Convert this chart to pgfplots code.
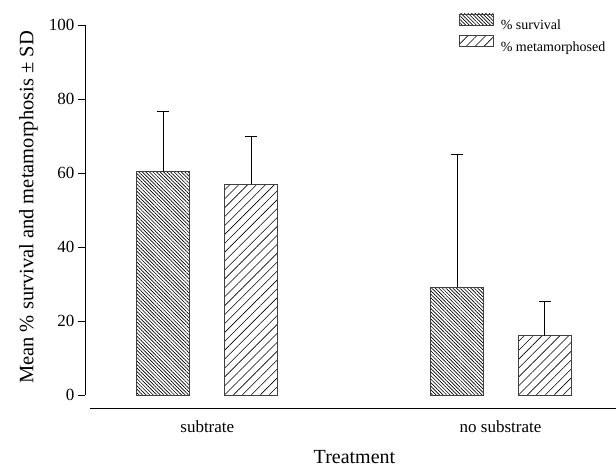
\documentclass[border=0pt]{standalone}
\usepackage{fontspec}
\setmainfont{Liberation Serif}
\usepackage{pgfplots}
\pgfplotsset{compat=1.18}
\usetikzlibrary{patterns.meta}
\pgfplotsset{boxlegend/.style={legend image code/.code={\draw[##1, line width=0.6pt] (0pt,1pt) rectangle (34pt,12pt);}}}
\begin{document}
\begin{tikzpicture}
\path[use as bounding box] (-85pt,-60pt) rectangle (531pt,408pt);
\begin{axis}[
 at={(0,0)}, anchor=south west,
 scale only axis, width=531pt, height=383pt,
 xmin=0, xmax=531, ymin=-3.51, ymax=100,
 axis lines*=left, axis line style={draw=none},
 clip=false,
 tick align=outside,
 ytick={0,20,40,60,80,100},
 xtick={122.3,415.5}, xticklabels={subtrate, no substrate},
 x tick style={draw=none}, major tick length=7pt,
 y tick style={black, line width=0.8pt},
 xticklabel style={anchor=base, yshift=-18pt, font=\fontsize{17}{20}\selectfont},
 yticklabel style={font=\fontsize{17}{20}\selectfont},
 /pgf/number format/assume math mode=true,
 xlabel={Treatment},
 ylabel={Mean \% survival and metamorphosis ± SD},
 xlabel style={at={(axis description cs:0.5075,-0.1446)}, anchor=base, font=\fontsize{20}{24}\selectfont},
 ylabel style={at={(axis description cs:-0.0974,0.5235)}, anchor=base, font=\fontsize{20.5}{24}\selectfont},
 legend style={at={(axis description cs:0.7043,1.0305)}, anchor=north west, draw=none, fill=none, inner sep=0pt, row sep=2pt, column sep=5pt, font=\fontsize{14}{16}\selectfont, nodes={inner sep=2pt}},
 legend cell align=left,
]
\addplot[ybar, bar width=53, draw=black!75, line width=0.8pt, pattern color=black,
  pattern={Lines[angle=-45,distance=2.5pt,line width=0.65pt]},
  boxlegend,
  error bars/.cd, y dir=plus, y explicit,
  error bar style={black, line width=0.8pt},
  error mark options={rotate=90, black, mark size=6pt, line width=0.8pt}]
 coordinates {(78.3,60.35) +- (0,16.2) (372,29.1) +- (0,35.8)};
\addlegendentry{\% survival}
\addplot[ybar, bar width=53, draw=black!75, line width=0.8pt, pattern color=black,
  pattern={Lines[angle=45,distance=6.3pt,line width=0.6pt]},
  boxlegend,
  error bars/.cd, y dir=plus, y explicit,
  error bar style={black, line width=0.8pt},
  error mark options={rotate=90, black, mark size=6pt, line width=0.8pt}]
 coordinates {(166.3,56.95) +- (0,12.9) (459.7,16.0) +- (0,9.4)};
\addlegendentry{\% metamorphosed}
\draw[black, line width=0.8pt] (axis cs:0,0) -- (axis cs:0,100);
\draw[black, line width=0.8pt] (axis cs:5,-3.51) -- (axis cs:531,-3.51);
\end{axis}
\end{tikzpicture}
\end{document}
